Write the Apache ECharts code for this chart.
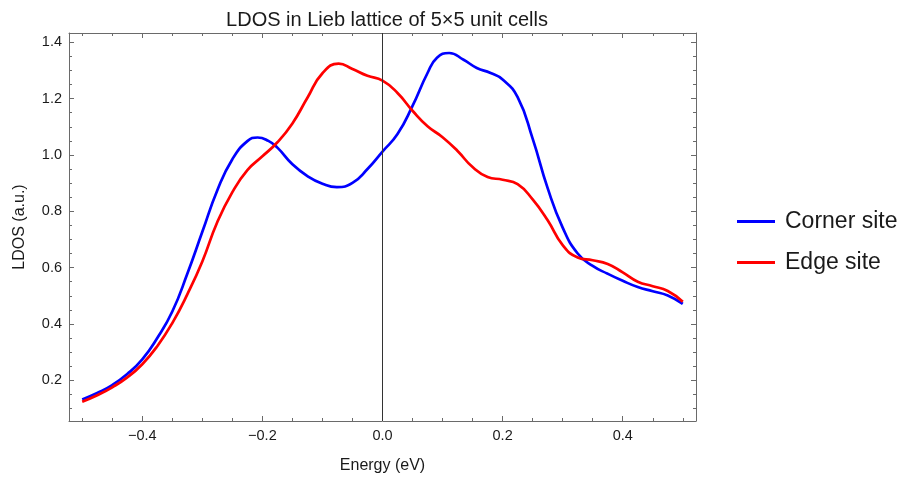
<!DOCTYPE html>
<html><head><meta charset="utf-8">
<script src="https://cdn.jsdelivr.net/npm/echarts@6/dist/echarts.min.js"></script>
<style>html,body{margin:0;padding:0;background:#fff}#c{width:904px;height:483px}</style>
</head><body><div id="c"></div><script>
const cornerEnergy = [-0.5,-0.475,-0.45,-0.425,-0.4,-0.375,-0.35,-0.325,-0.3,-0.275,-0.25,-0.225,-0.208,-0.19,-0.175,-0.15,-0.125,-0.1,-0.076,-0.05,-0.025,0,0.025,0.05,0.075,0.0907,0.111,0.135,0.157,0.18,0.2,0.225,0.25,0.275,0.3,0.325,0.35,0.375,0.4,0.425,0.45,0.475,0.5];
const corner = [0.132,0.155,0.183,0.222,0.274,0.350,0.444,0.578,0.727,0.875,0.985,1.049,1.062,1.050,1.026,0.967,0.925,0.898,0.886,0.901,0.950,1.012,1.074,1.174,1.291,1.345,1.362,1.338,1.309,1.291,1.268,1.205,1.058,0.882,0.742,0.650,0.606,0.578,0.553,0.531,0.516,0.501,0.471];
const edgeEnergy = [-0.5,-0.475,-0.45,-0.425,-0.4,-0.375,-0.35,-0.325,-0.3,-0.275,-0.25,-0.225,-0.2,-0.175,-0.15,-0.125,-0.1,-0.073,-0.05,-0.025,0,0.025,0.05,0.075,0.1,0.125,0.15,0.175,0.2,0.225,0.25,0.275,0.3,0.325,0.35,0.375,0.4,0.425,0.45,0.475,0.5];
const edge = [0.124,0.147,0.175,0.210,0.257,0.321,0.403,0.505,0.622,0.762,0.868,0.946,0.995,1.045,1.112,1.203,1.290,1.324,1.305,1.281,1.264,1.220,1.157,1.102,1.063,1.014,0.957,0.922,0.912,0.896,0.842,0.768,0.680,0.636,0.626,0.613,0.583,0.550,0.534,0.517,0.479];
const seriesNames = ['Corner site', 'Edge site'];
const xTicks = [-0.4,-0.2,0,0.2,0.4];
const xMinorTicks = [-0.5,-0.45,-0.35,-0.3,-0.25,-0.15,-0.1,-0.05,0.05,0.1,0.15,0.25,0.3,0.35,0.45,0.5];
const yTicks = [0.2,0.4,0.6,0.8,1.0,1.2,1.4];
const yMinorTicks = [0.1,0.15,0.25,0.3,0.35,0.45,0.5,0.55,0.65,0.7,0.75,0.85,0.9,0.95,1.05,1.1,1.15,1.25,1.3,1.35];
const xRange = [-0.522, 0.522];
const yRange = [0.0553, 1.433];

const FONT = 'Liberation Sans, Arial, sans-serif';
const FRAME = '#6a6a6a';
const fmt = v => (v < 0 ? '\u2212' : '') + Math.abs(v).toFixed(1);

function xAx(pos, ticks, len, labels, line, name) {
  return {
    type: 'value', position: pos, min: xRange[0], max: xRange[1],
    splitLine: {show: false},
    axisLine: {show: line, onZero: false, lineStyle: {color: FRAME, width: 1}},
    axisTick: {show: true, inside: true, length: len, customValues: ticks, lineStyle: {color: FRAME}},
    axisLabel: {show: labels, customValues: ticks, formatter: fmt, margin: 7, color: '#1a1a1a', fontSize: 14.5, fontFamily: FONT},
    name: name || '', nameLocation: 'middle', nameGap: 37,
    nameTextStyle: {color: '#1a1a1a', fontSize: 16, fontFamily: FONT}
  };
}
function yAx(pos, ticks, len, labels, line, name) {
  return {
    type: 'value', position: pos, min: yRange[0], max: yRange[1],
    splitLine: {show: false},
    axisLine: {show: line, onZero: false, lineStyle: {color: FRAME, width: 1}},
    axisTick: {show: true, inside: true, length: len, customValues: ticks, lineStyle: {color: FRAME}},
    axisLabel: {show: labels, customValues: ticks, formatter: v => v.toFixed(1), margin: 7, color: '#1a1a1a', fontSize: 14.5, fontFamily: FONT},
    name: name || '', nameLocation: 'middle', nameGap: 41,
    nameTextStyle: {color: '#1a1a1a', fontSize: 16, fontFamily: FONT}
  };
}

const chart = echarts.init(document.getElementById('c'), null, {renderer: 'canvas'});
chart.setOption({
  animation: false,
  backgroundColor: '#fff',
  title: {
    text: 'LDOS in Lieb lattice of 5\u00d75 unit cells',
    left: 382, top: 5, textAlign: 'center',
    textStyle: {fontSize: 20, fontWeight: 'normal', color: '#1a1a1a', fontFamily: FONT}
  },
  grid: {left: 69, right: 208, top: 33, bottom: 62, containLabel: false},
  legend: {
    orient: 'vertical', left: 732, top: 205, itemGap: 18,
    itemWidth: 38, itemHeight: 3, icon: 'rect',
    textStyle: {fontSize: 23, color: '#1a1a1a', fontFamily: FONT, padding: [0, 0, 0, 5]},
    data: seriesNames
  },
  xAxis: [
    xAx('bottom', xTicks, 5, true, true, 'Energy (eV)'),
    xAx('bottom', xMinorTicks, 3, false, false),
    xAx('top', xTicks, 5, false, true),
    xAx('top', xMinorTicks, 3, false, false)
  ],
  yAxis: [
    yAx('left', yTicks, 5, true, true, 'LDOS (a.u.)'),
    yAx('left', yMinorTicks, 3, false, false),
    yAx('right', yTicks, 5, false, true),
    yAx('right', yMinorTicks, 3, false, false)
  ],
  series: [
    {
      type: 'line', name: '_zero', data: [], z: 1, silent: true,
      markLine: {
        silent: true, symbol: ['none', 'none'], label: {show: false},
        lineStyle: {color: '#333', width: 1, type: 'solid'},
        data: [{xAxis: 0}]
      }
    },
    {
      type: 'line', name: seriesNames[0], smooth: 0.5, showSymbol: false, symbol: 'none', z: 3,
      color: '#0000ff', lineStyle: {color: '#0000ff', width: 2.7},
      data: cornerEnergy.map((x, i) => [x, corner[i]])
    },
    {
      type: 'line', name: seriesNames[1], smooth: 0.5, showSymbol: false, symbol: 'none', z: 4,
      color: '#ff0000', lineStyle: {color: '#ff0000', width: 2.7},
      data: edgeEnergy.map((x, i) => [x, edge[i]])
    }
  ]
});
</script></body></html>
